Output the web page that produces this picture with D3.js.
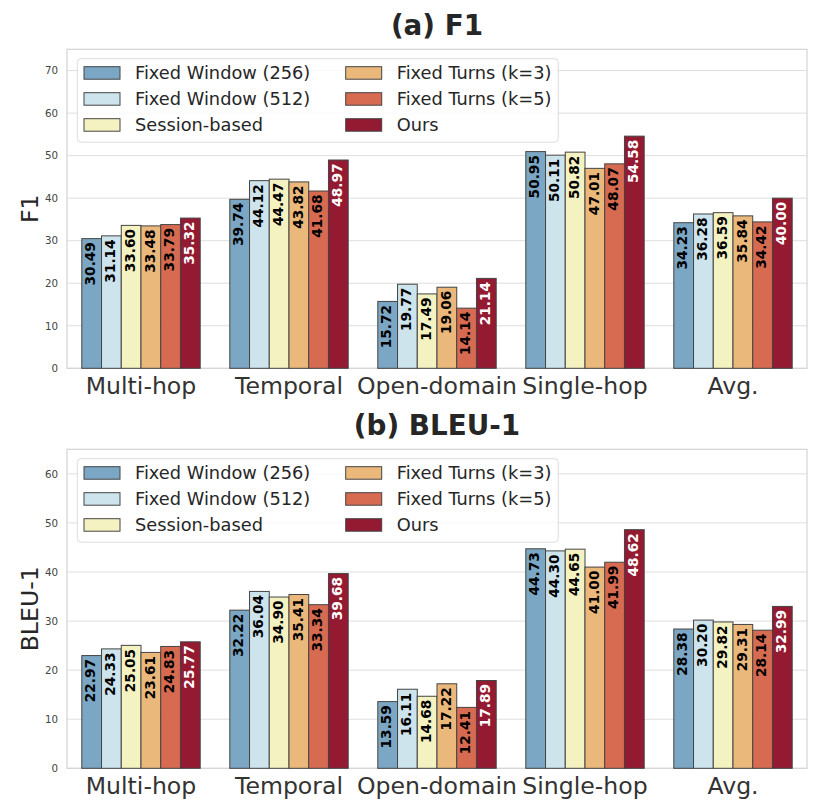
<!DOCTYPE html>
<html>
<head>
<meta charset="utf-8">
<script src="https://cdn.jsdelivr.net/npm/d3@7"></script>
<style>
body { margin: 0; background: #fff; }
text { font-family: "DejaVu Sans", sans-serif; }
</style>
</head>
<body>
<div class="canva"></div>
<script>
// categories and methods
const categories = ['Multi-hop', 'Temporal', 'Open-domain', 'Single-hop', 'Avg.'];
const methods = ['Fixed Window (256)', 'Fixed Window (512)', 'Session-based',
                 'Fixed Turns (k=3)', 'Fixed Turns (k=5)', 'Ours'];
const colors = ['#7ba7c4', '#cde4ed', '#f5f2c2', '#ebb87c', '#d76b51', '#931a31'];

// F1 values, one array per method (order = categories)
const f1FixedWin256 = [30.49, 39.74, 15.72, 50.95, 34.23];
const f1FixedWin512 = [31.14, 44.12, 19.77, 50.11, 36.28];
const f1Session     = [33.60, 44.47, 17.49, 50.82, 36.59];
const f1Turns3      = [33.48, 43.82, 19.06, 47.01, 35.84];
const f1Turns5      = [33.79, 41.68, 14.14, 48.07, 34.42];
const f1Ours        = [35.32, 48.97, 21.14, 54.58, 40.00];

// BLEU-1 values
const bleuFixedWin256 = [22.97, 32.22, 13.59, 44.73, 28.38];
const bleuFixedWin512 = [24.33, 36.04, 16.11, 44.30, 30.20];
const bleuSession     = [25.05, 34.90, 14.68, 44.65, 29.82];
const bleuTurns3      = [23.61, 35.41, 17.22, 41.00, 29.31];
const bleuTurns5      = [24.83, 33.34, 12.41, 41.99, 28.14];
const bleuOurs        = [25.77, 39.68, 17.89, 48.62, 32.99];

const f1Ticks = [0, 10, 20, 30, 40, 50, 60, 70];
const bleuTicks = [0, 10, 20, 30, 40, 50, 60];

const panels = [
  {title: '(a) F1', ylabel: 'F1', top: 49.3, ymax: 75, ticks: f1Ticks,
   series: [f1FixedWin256, f1FixedWin512, f1Session, f1Turns3, f1Turns5, f1Ours]},
  {title: '(b) BLEU-1', ylabel: 'BLEU-1', top: 449.3, ymax: 65, ticks: bleuTicks,
   series: [bleuFixedWin256, bleuFixedWin512, bleuSession, bleuTurns3, bleuTurns5, bleuOurs]}
];

const W = 820, H = 812;
const left = 67, right = 807, plotH = 319;

const svg = d3.select('.canva').append('svg')
  .attr('width', W)
  .attr('height', H);

panels.forEach(p => {
  const g = svg.append('g').attr('transform', `translate(0,${p.top})`);

  const x = d3.scaleBand().domain(categories).range([left, right]).padding(0);
  const xInner = d3.scaleBand().domain(methods)
    .range([x.bandwidth() * 0.1, x.bandwidth() * 0.9]).padding(0);
  const y = d3.scaleLinear().domain([0, p.ymax]).range([plotH, 0]);

  // grid
  g.append('g')
    .selectAll('line')
    .data(p.ticks)
    .enter()
    .append('line')
    .attr('x1', left).attr('x2', right)
    .attr('y1', d => y(d)).attr('y2', d => y(d))
    .attr('stroke', '#dedede')
    .attr('stroke-width', 1);

  // y axis (labels only)
  const yAxis = g.append('g')
    .attr('transform', `translate(${left},0)`)
    .call(d3.axisLeft(y).tickValues(p.ticks).tickSize(0).tickPadding(9));
  yAxis.select('.domain').remove();
  yAxis.selectAll('text')
    .attr('font-size', 10.3)
    .attr('fill', '#444')
    .style('font-family', '"DejaVu Sans", sans-serif');

  // x axis
  const xAxis = g.append('g')
    .attr('transform', `translate(0,${plotH})`)
    .call(d3.axisBottom(x).tickSize(0).tickPadding(0));
  xAxis.select('.domain').remove();
  xAxis.selectAll('text')
    .attr('dy', null)
    .attr('y', 25.5)
    .attr('font-size', 23.6)
    .attr('fill', '#333')
    .style('font-family', '"DejaVu Sans", sans-serif');

  // frame
  g.append('rect')
    .attr('x', left).attr('y', 0)
    .attr('width', right - left).attr('height', plotH)
    .attr('fill', 'none')
    .attr('stroke', '#d4d4d4')
    .attr('stroke-width', 1.2);

  // bars
  const rows = [];
  p.series.forEach((vals, si) => {
    vals.forEach((v, ci) => rows.push({m: methods[si], si: si, c: categories[ci], v: v}));
  });

  const bar = g.append('g')
    .selectAll('g')
    .data(rows)
    .enter()
    .append('g')
    .attr('class', 'bar');

  bar.append('rect')
    .attr('x', d => x(d.c) + xInner(d.m))
    .attr('y', d => y(d.v))
    .attr('width', xInner.bandwidth())
    .attr('height', d => plotH - y(d.v))
    .attr('fill', d => colors[d.si])
    .attr('stroke', '#444')
    .attr('stroke-width', 1);

  bar.append('text')
    .attr('transform', d => {
      const cx = x(d.c) + xInner(d.m) + xInner.bandwidth() / 2;
      return `translate(${cx},${y(d.v) + 3.5}) rotate(-90)`;
    })
    .attr('text-anchor', 'end')
    .attr('dy', '0.27em')
    .attr('font-size', 13.7)
    .attr('font-weight', 'bold')
    .attr('fill', d => d.si === 5 ? '#fff' : '#000')
    .text(d => d.v.toFixed(2));

  // title
  g.append('text')
    .attr('x', (left + right) / 2)
    .attr('y', -14.5)
    .attr('text-anchor', 'middle')
    .attr('font-size', 27.8)
    .attr('font-weight', 'bold')
    .attr('fill', '#262626')
    .text(p.title);

  // y label
  g.append('text')
    .attr('transform', `translate(37.5,${plotH / 2}) rotate(-90)`)
    .attr('text-anchor', 'middle')
    .attr('font-size', 23.6)
    .attr('fill', '#262626')
    .text(p.ylabel);

  // legend
  const leg = g.append('g').attr('transform', `translate(77.3,9.4)`);
  leg.append('rect')
    .attr('width', 481).attr('height', 83.5)
    .attr('rx', 4).attr('ry', 4)
    .attr('fill', '#fff').attr('fill-opacity', 0.8)
    .attr('stroke', '#dcdcdc').attr('stroke-width', 1);

  const item = leg.selectAll('g.item')
    .data(methods)
    .enter()
    .append('g')
    .attr('class', 'item')
    .attr('transform', (d, i) => `translate(${i < 3 ? 6.7 : 268.4},${8 + (i % 3) * 26})`);

  item.append('rect')
    .attr('width', 36).attr('height', 12.5)
    .attr('fill', (d, i) => colors[i])
    .attr('stroke', '#444')
    .attr('stroke-width', 1);

  item.append('text')
    .attr('x', 51)
    .attr('y', 12.5)
    .attr('font-size', 17.8)
    .attr('fill', '#262626')
    .text(d => d);
});
</script>
</body>
</html>
